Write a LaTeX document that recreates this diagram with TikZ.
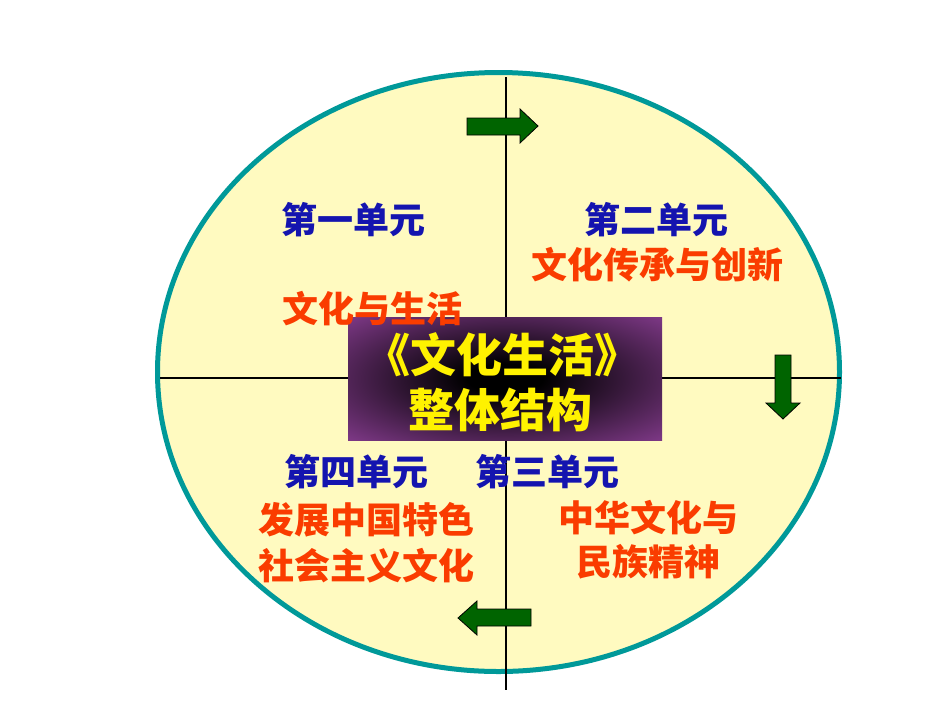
\documentclass[tikz,border=0pt]{standalone}
\usepackage{fontspec}
\newfontfamily\cjk{Noto Sans CJK SC}
\usetikzlibrary{shadings}
\definecolor{ellfill}{RGB}{255,250,192}
\definecolor{ellline}{RGB}{0,153,153}
\definecolor{unitblue}{RGB}{20,20,175}
\definecolor{titlered}{RGB}{250,60,0}
\definecolor{boxpurple}{RGB}{145,65,155}
\definecolor{arrgreen}{RGB}{0,100,0}
\pgfdeclareradialshading{boxshade}{\pgfpoint{0bp}{0bp}}{color(0bp)=(black); color(6bp)=(black); color(40bp)=(boxpurple); color(100bp)=(boxpurple)}
\tikzset{
  unit/.style={inner sep=0pt, font=\cjk\bfseries\fontsize{36}{36}\selectfont},
  bluetext/.style={unit, text=unitblue},
  redtext/.style={unit, text=titlered},
  axis/.style={line width=2.6pt, black},
  greenarrow/.style={fill=arrgreen, draw=black, line width=0.8pt, line join=miter},
  titletext/.style={inner sep=0pt, text=yellow, font=\cjk\bfseries\fontsize{46}{46}\selectfont},
}
\begin{document}
\begin{tikzpicture}[x=1pt,y=-1pt]
\useasboundingbox (0,0) rectangle (950,713);
% ellipse
\draw[ellline, fill=ellfill, line width=5pt] (498.5,372) ellipse [x radius=341, y radius=299.5];
% axes
\coordinate (vtop) at (506,77);
\coordinate (vbot) at (506,690);
\coordinate (hleft) at (160,378);
\coordinate (hright) at (841,378);
\draw[axis] (vtop) -- (vbot);
\draw[axis] (hleft) -- (hright);
% center box
\shade[shading=boxshade] (348,317) rectangle (662,440);
\node[titletext] (t1) at (502,355) {《文化生活》};
\node[titletext] (t2) at (500,410) {整体结构};
% arrows
\draw[greenarrow] (467,118) -- (520,118) -- (520,109) -- (538,126) -- (520,143) -- (520,135) -- (467,135) -- cycle;
\draw[greenarrow] (775,355) -- (791,355) -- (791,403) -- (800,403) -- (783,419) -- (766,403) -- (775,403) -- cycle;
\draw[greenarrow] (531,609) -- (477,609) -- (477,601) -- (458,618) -- (477,635) -- (477,626) -- (531,626) -- cycle;
% labels
\node[bluetext] (u1) at (353,220) {第一单元};
\node[redtext] (u1t) at (372,309) {文化与生活};
\node[bluetext] (u2) at (656,220) {第二单元};
\node[redtext] (u2t) at (657,265) {文化传承与创新};
\node[bluetext] (u4) at (356,472) {第四单元};
\node[redtext] (u4a) at (366,520) {发展中国特色};
\node[redtext] (u4b) at (366,566) {社会主义文化};
\node[bluetext] (u3) at (547,472) {第三单元};
\node[redtext] (u3a) at (648,518) {中华文化与};
\node[redtext] (u3b) at (648,562) {民族精神};
\end{tikzpicture}
\end{document}
